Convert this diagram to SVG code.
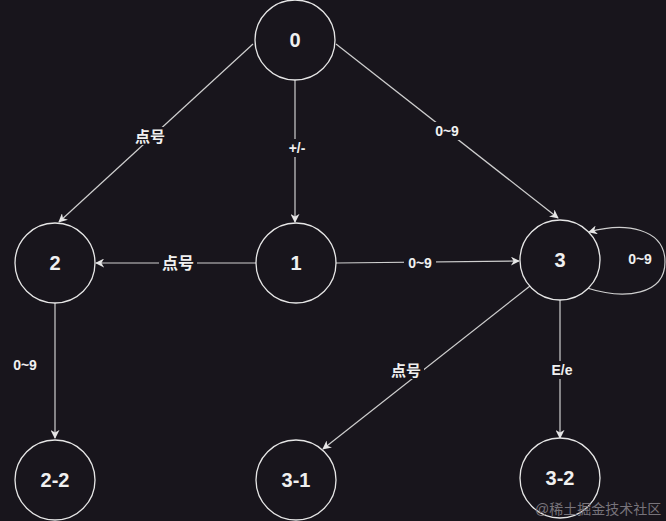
<svg xmlns="http://www.w3.org/2000/svg" width="666" height="521" viewBox="0 0 666 521">
<style>
.bg{fill:#18151c}
.node circle{fill:#18151c;stroke:#e6e6e6;stroke-width:1.3}
.node text{font-family:"Liberation Sans",Arial,sans-serif;font-weight:bold;font-size:20px;fill:#f0f0f0;text-anchor:middle;dominant-baseline:central}
.edge{fill:none;stroke:#cfcfcf;stroke-width:1.2;marker-end:url(#arr)}
.lbl rect{fill:#18151c}
.lbl text{font-family:"Liberation Sans","Noto Sans CJK SC",sans-serif;font-weight:bold;font-size:14px;fill:#f0f0f0;text-anchor:middle;dominant-baseline:central}
.lbl text.cn{font-size:15px}
.wm{font-family:"Liberation Sans","Noto Sans CJK SC",sans-serif;font-size:14px;fill:#77737a}
</style>
<defs>
<marker id="arr" viewBox="0 0 10 10" refX="9" refY="5" markerWidth="9" markerHeight="9" markerUnits="userSpaceOnUse" orient="auto">
<path d="M0,0 L10,5 L0,10 L3,5 Z" fill="#e6e6e6"/>
</marker>
</defs>
<rect class="bg" x="0" y="0" width="666" height="521"/>
<g id="connectors">
<path class="edge" d="M253,44 L59,222"/>
<path class="edge" d="M295,80 L295,222"/>
<path class="edge" d="M336,44 L558,218"/>
<path class="edge" d="M256,263 L96,263"/>
<path class="edge" d="M336,263 L519,261"/>
<path class="edge" d="M587,288 C625,300 665,295 665,262 C665,228 625,222 589,232"/>
<path class="edge" d="M55,303 L55,438"/>
<path class="edge" d="M530,286 L323,449"/>
<path class="edge" d="M560,300 L560,438"/>
</g>
<g id="labels">
<g class="lbl"><rect x="133" y="127" width="34" height="18"/><text class="cn" x="150" y="136">点号</text></g>
<g class="lbl"><rect x="284" y="139" width="26" height="18"/><text x="297" y="148">+/-</text></g>
<g class="lbl"><rect x="431" y="122" width="32" height="18"/><text x="447" y="131">0~9</text></g>
<g class="lbl"><rect x="159" y="253" width="38" height="20"/><text class="cn" x="178" y="263" style="font-size:16px">点号</text></g>
<g class="lbl"><rect x="404" y="254" width="32" height="18"/><text x="420" y="263">0~9</text></g>
<g class="lbl"><text x="640" y="259">0~9</text></g>
<g class="lbl"><text x="25" y="365">0~9</text></g>
<g class="lbl"><rect x="388" y="361" width="36" height="18"/><text class="cn" x="406" y="370">点号</text></g>
<g class="lbl"><rect x="547" y="361" width="30" height="18"/><text x="562" y="370">E/e</text></g>
</g>
<g id="n0" class="node"><circle cx="295" cy="40" r="40"/><text x="295" y="40">0</text></g>
<g id="n1" class="node"><circle cx="296" cy="263" r="40"/><text x="296" y="263">1</text></g>
<g id="n2" class="node"><circle cx="55" cy="263" r="40"/><text x="55" y="263">2</text></g>
<g id="n3" class="node"><circle cx="560" cy="260" r="40"/><text x="560" y="260">3</text></g>
<g id="n22" class="node"><circle cx="55" cy="480" r="40"/><text x="55" y="480">2-2</text></g>
<g id="n31" class="node"><circle cx="296" cy="480" r="40"/><text x="296" y="480">3-1</text></g>
<g id="n32" class="node"><circle cx="560" cy="478" r="40"/><text x="560" y="478">3-2</text></g>
<text class="wm" x="535" y="514">@稀土掘金技术社区</text>
</svg>
